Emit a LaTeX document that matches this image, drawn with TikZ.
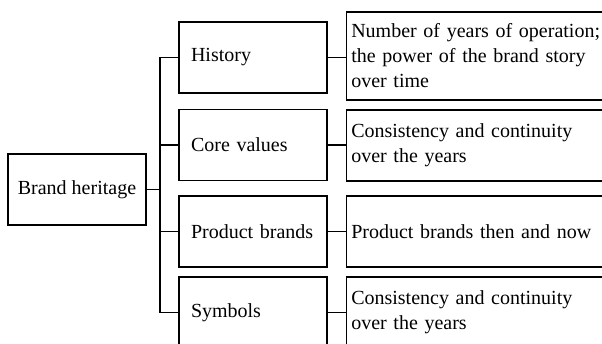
\documentclass[tikz,border=0pt]{standalone}
\usepackage{fontspec}
\setmainfont{Liberation Serif}
\begin{document}
\begin{tikzpicture}[x=1pt,y=-1pt,line width=1.1pt,
  txt/.style={font=\fontsize{20}{25}\selectfont},
  midbox/.style={txt,draw,rectangle,text width=124pt,inner xsep=12pt,minimum height=71pt,align=left},
  rightbox/.style={txt,draw,rectangle,text width=280pt,inner xsep=5pt,align=left,anchor=west},
  rootbox/.style={txt,draw,rectangle,minimum width=138pt,minimum height=71pt,align=center}]
\useasboundingbox (0,0) rectangle (602,343);
\clip (0,0) rectangle (602,343);
\node[rootbox] (bh) at (77,189.5) {Brand heritage};
\node[midbox] (h) at (253,57.5) {History};
\node[midbox] (c) at (253,145) {Core values};
\node[midbox] (p) at (253,231.5) {Product brands};
\node[midbox] (s) at (253,312.5) {Symbols};
\node[rightbox,minimum height=88pt] (hr) at (345.7,56) {Number of years of operation;\\the power of the brand story\\over time};
\node[rightbox,minimum height=71pt] (cr) at (345.7,145.5) {Consistency and continuity\\over the years};
\node[rightbox,minimum height=71pt] (pr) at (345.7,231.5) {Product brands then and now};
\node[rightbox,minimum height=71pt] (sr) at (345.7,312.5) {Consistency and continuity\\over the years};
\coordinate (tk) at (160,0);
\draw (bh.east) -- (bh.east -| tk);
\draw (h.west) -- (h.west -| tk) |- (s.west);
\draw (c.west) -- (c.west -| tk);
\draw (p.west) -- (p.west -| tk);
\draw (h.east) -- (h.east -| hr.west);
\draw (c.east) -- (c.east -| cr.west);
\draw (p.east) -- (p.east -| pr.west);
\draw (s.east) -- (s.east -| sr.west);
\end{tikzpicture}
\end{document}
